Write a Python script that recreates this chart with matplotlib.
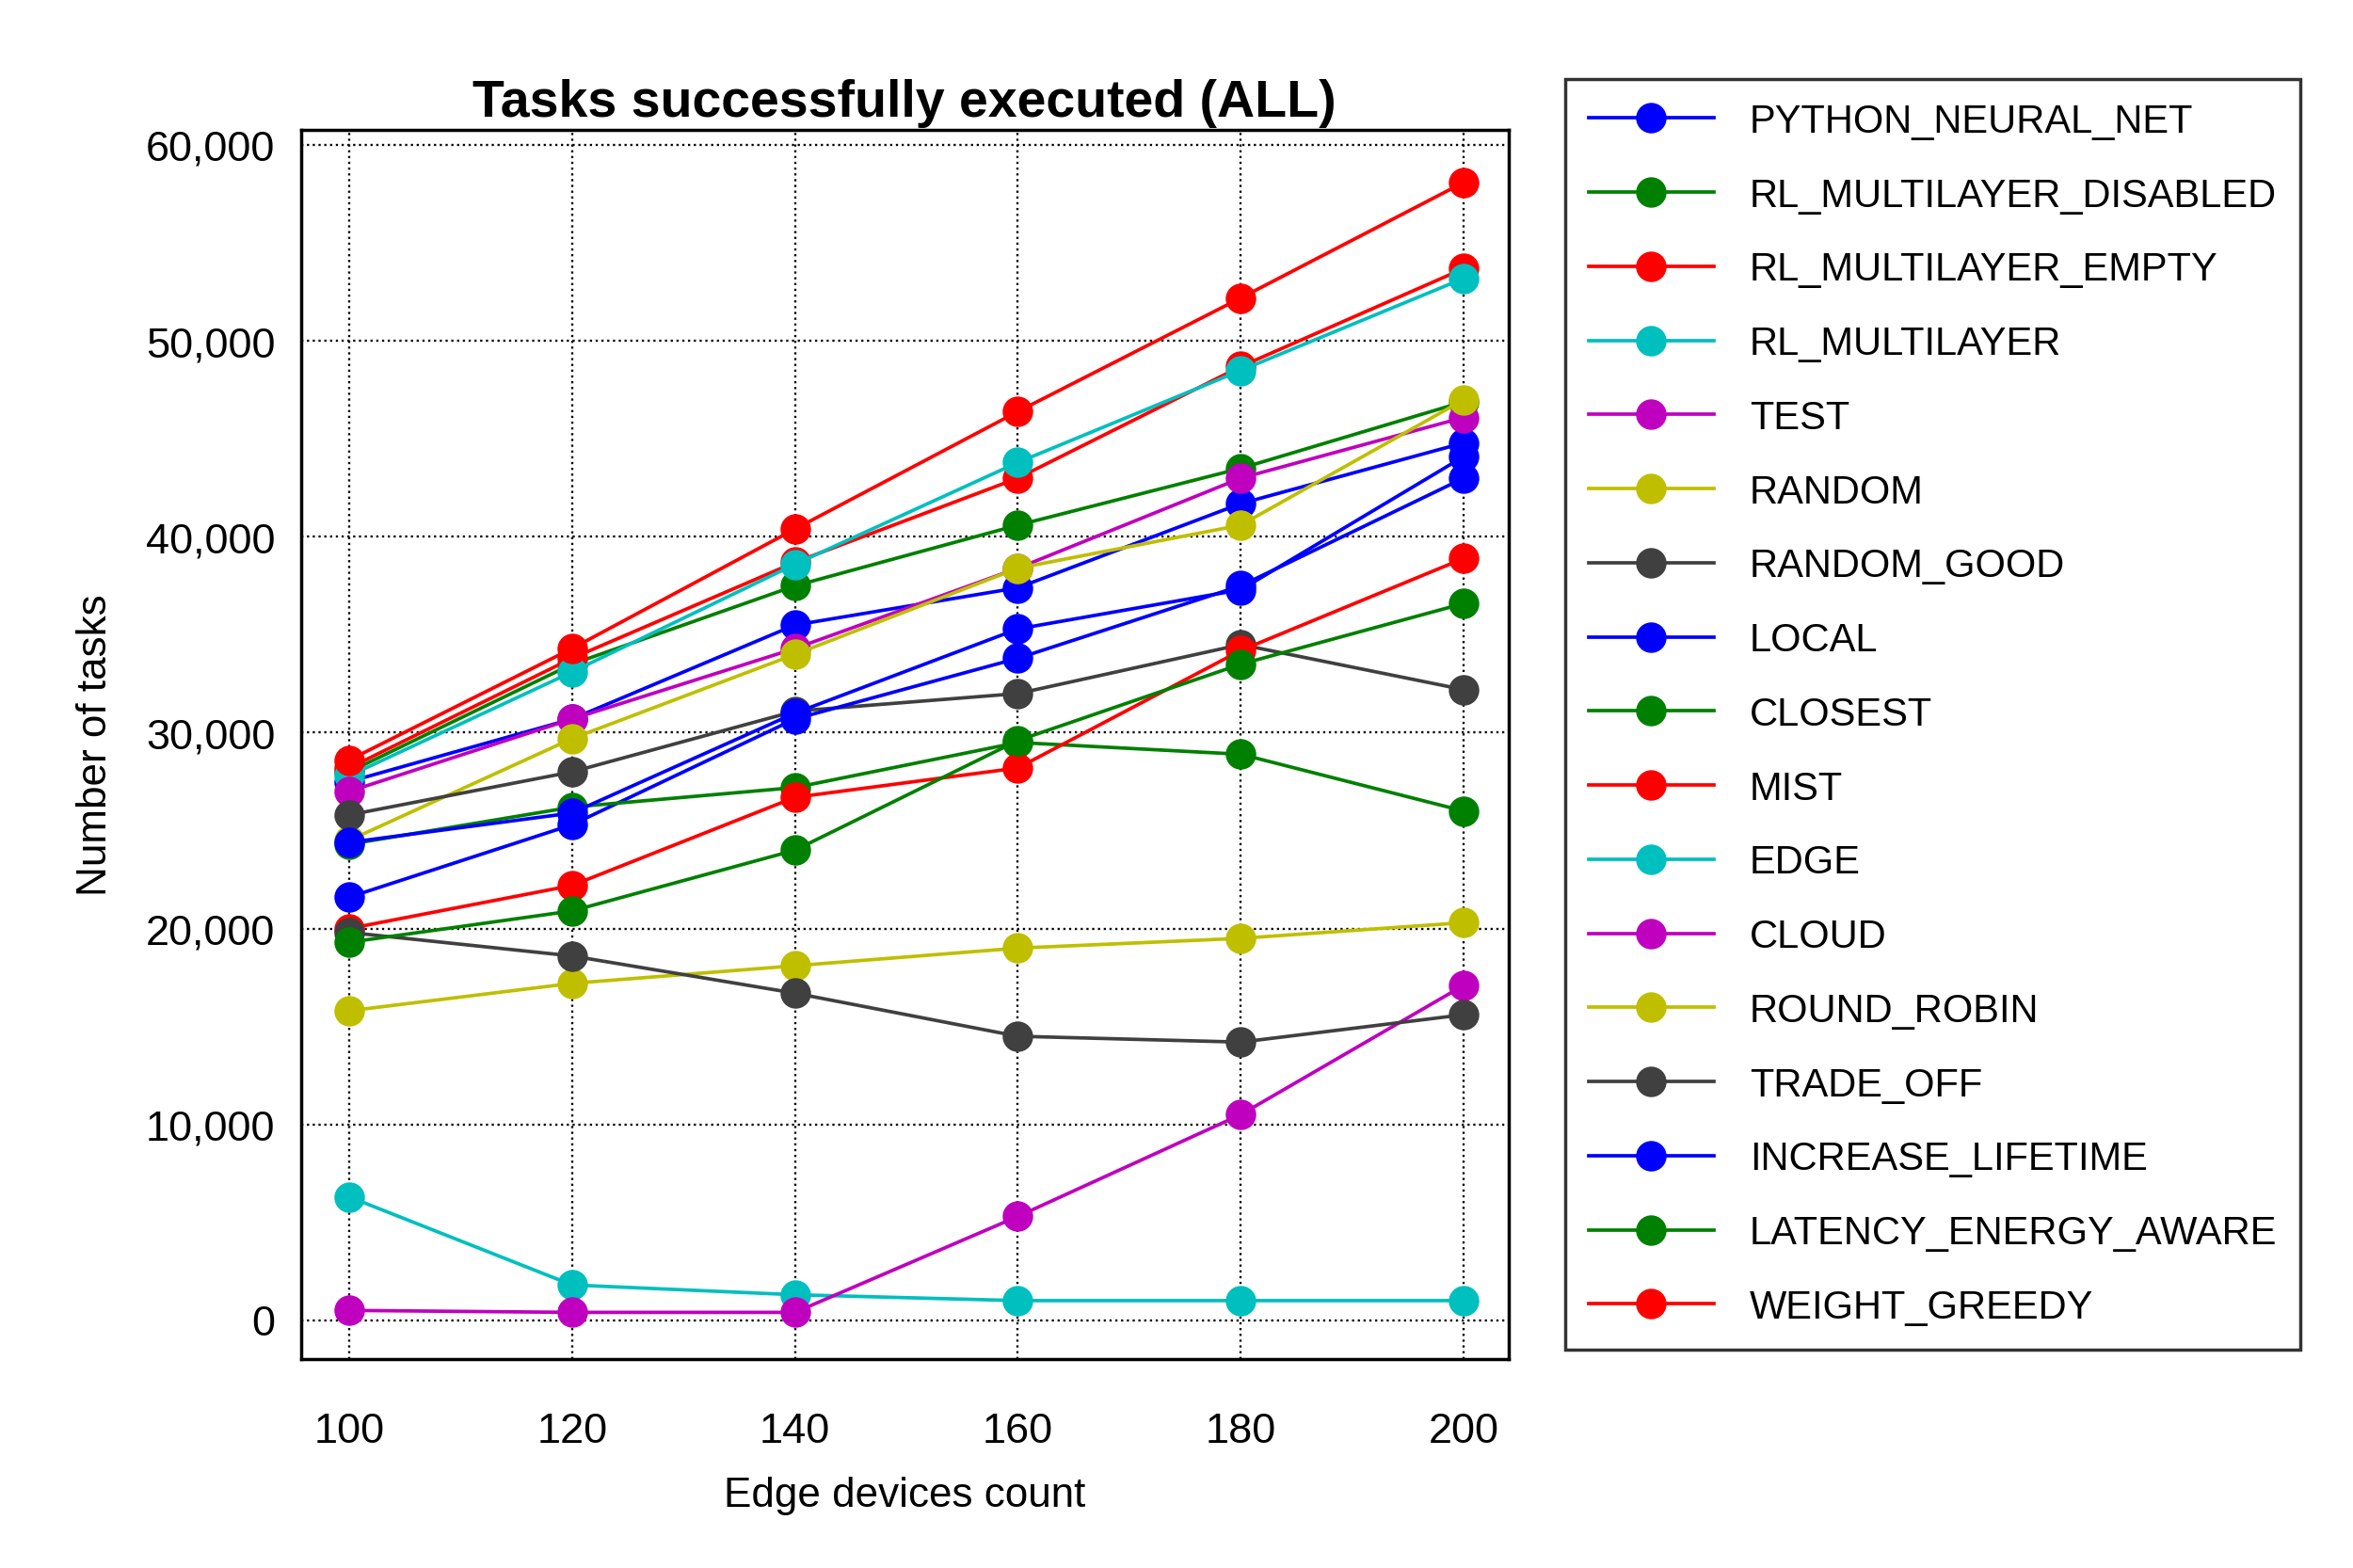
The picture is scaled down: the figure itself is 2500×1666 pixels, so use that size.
import matplotlib
matplotlib.use("Agg")
import matplotlib.pyplot as plt
from matplotlib.ticker import FuncFormatter

plt.rcParams['font.family'] = ['Liberation Sans', 'DejaVu Sans']

devices = [100, 120, 140, 160, 180, 200]

names = [
    "PYTHON_NEURAL_NET", "RL_MULTILAYER_DISABLED", "RL_MULTILAYER_EMPTY",
    "RL_MULTILAYER", "TEST", "RANDOM", "RANDOM_GOOD", "LOCAL", "CLOSEST",
    "MIST", "EDGE", "CLOUD", "ROUND_ROBIN", "TRADE_OFF", "INCREASE_LIFETIME",
    "LATENCY_ENERGY_AWARE", "WEIGHT_GREEDY",
]
python_neural_net = [27500, 30700, 35500, 37400, 41700, 44800]
rl_multilayer_disabled = [28000, 33500, 37500, 40600, 43500, 46900]
rl_multilayer_empty = [28200, 33800, 38700, 43000, 48700, 53700]
rl_multilayer = [27800, 33100, 38600, 43800, 48500, 53200]
test = [27000, 30700, 34300, 38400, 43000, 46100]
random_ = [24500, 29700, 34000, 38400, 40600, 47000]
random_good = [25800, 28000, 31100, 32000, 34500, 32200]
local = [21600, 25300, 30700, 33800, 37500, 43000]
closest = [24300, 26200, 27200, 29500, 28900, 26000]
mist = [20000, 22200, 26700, 28200, 34200, 38900]
edge = [6300, 1800, 1300, 1000, 1000, 1000]
cloud = [500, 400, 400, 5300, 10500, 17100]
round_robin = [15800, 17200, 18100, 19000, 19500, 20300]
trade_off = [19800, 18600, 16700, 14500, 14200, 15600]
increase_lifetime = [24400, 25900, 31000, 35300, 37300, 44100]
latency_energy_aware = [19300, 20900, 24000, 29600, 33500, 36600]
weight_greedy = [28600, 34300, 40400, 46400, 52200, 58100]

series = [python_neural_net, rl_multilayer_disabled, rl_multilayer_empty,
          rl_multilayer, test, random_, random_good, local, closest, mist,
          edge, cloud, round_robin, trade_off, increase_lifetime,
          latency_energy_aware, weight_greedy]
cycle = ["#0000ff", "#008000", "#ff0000", "#00bfbf", "#bf00bf", "#bfbf00", "#404040"]

fig = plt.figure(figsize=(15, 10), dpi=166.67)
ax = fig.add_axes([0.128, 0.133, 0.513, 0.784])
for i, (name, vals) in enumerate(zip(names, series)):
    ax.plot(devices, vals, "-o", color=cycle[i % 7], lw=1.6, ms=13, label=name)

ax.set_xlim(95.7, 204)
ax.set_ylim(-2000, 60800)
ax.set_xticks(devices)
ax.set_yticks(range(0, 60001, 10000))
ax.yaxis.set_major_formatter(FuncFormatter(lambda v, p: f"{int(v):,}"))
ax.grid(True, color="black", linestyle=":", lw=1.0)
ax.tick_params(labelsize=19.5, direction="in", length=0)
ax.tick_params(axis="x", pad=24)
ax.tick_params(axis="y", pad=12)
for s in ax.spines.values():
    s.set_linewidth(1.5)
ax.set_title("Tasks successfully executed (ALL)", fontsize=24, fontweight="bold", pad=6)
ax.set_xlabel("Edge devices count", fontsize=19, labelpad=12)
ax.set_ylabel("Number of tasks", fontsize=19, labelpad=14)

leg = ax.legend(loc="upper left", bbox_to_anchor=(1.047, 1.041), fontsize=18,
                frameon=True, fancybox=False, edgecolor="black",
                labelspacing=0.93, handlelength=3.2, borderpad=0.6,
                borderaxespad=0, handletextpad=0.9, markerscale=1.0)
leg.get_frame().set_linewidth(1.5)

fig.savefig("out.png", dpi=166.67)
